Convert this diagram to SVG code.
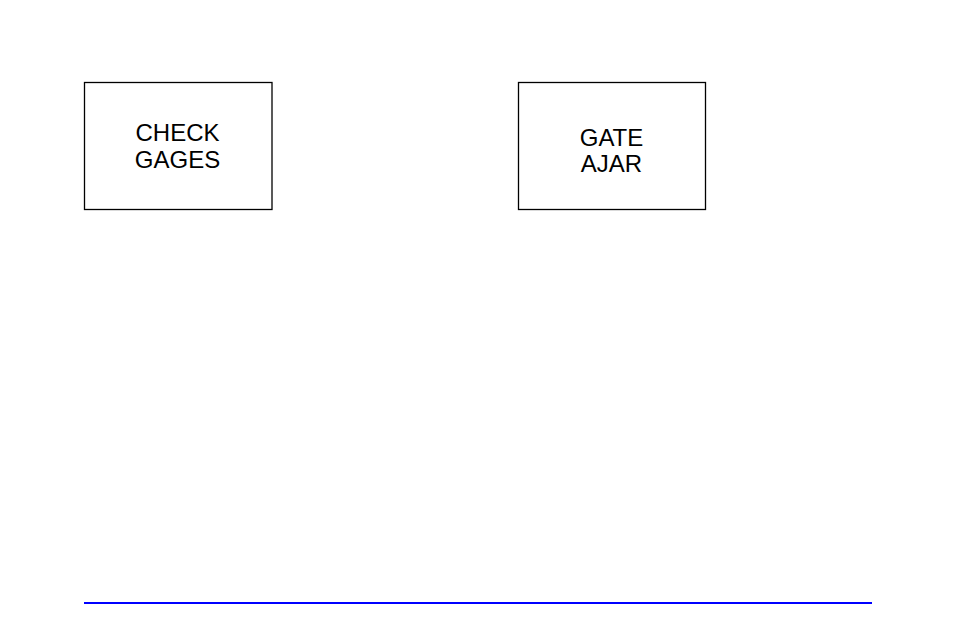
<svg xmlns="http://www.w3.org/2000/svg" width="954" height="636" viewBox="0 0 954 636">
<style>
.box{fill:#fff;stroke:#000;stroke-width:1.3}
.lbl{font-family:"Liberation Sans",Arial,sans-serif;font-size:24px;fill:#000;text-anchor:middle}
</style>
<rect width="954" height="636" fill="#fff"/>
<g id="check-gages">
<rect class="box" x="84.5" y="82.5" width="187.5" height="127"/>
<text class="lbl" x="177.5" y="141">CHECK</text>
<text class="lbl" x="177.5" y="168">GAGES</text>
</g>
<g id="gate-ajar">
<rect class="box" x="518.5" y="82.5" width="187" height="127"/>
<text class="lbl" x="611.5" y="146">GATE</text>
<text class="lbl" x="611.5" y="172">AJAR</text>
</g>
<g id="connectors"></g>
<line x1="84" y1="603" x2="872" y2="603" stroke="#0000ff" stroke-width="2"/>
</svg>
